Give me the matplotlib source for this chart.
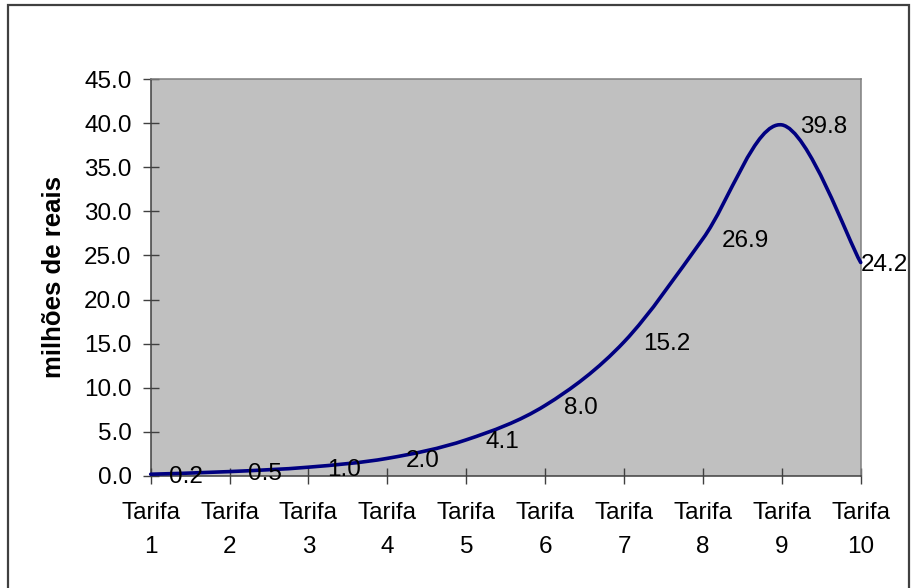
import numpy as np
import matplotlib
matplotlib.use("Agg")
import matplotlib.pyplot as plt
from matplotlib.path import Path
from matplotlib.patches import PathPatch, Rectangle

categories = ["Tarifa\n1", "Tarifa\n2", "Tarifa\n3", "Tarifa\n4", "Tarifa\n5",
              "Tarifa\n6", "Tarifa\n7", "Tarifa\n8", "Tarifa\n9", "Tarifa\n10"]
values = [0.2, 0.5, 1.0, 2.0, 4.1, 8.0, 15.2, 26.9, 39.8, 24.2]
value_labels = ["0.2", "0.5", "1.0", "2.0", "4.1", "8.0", "15.2", "26.9", "39.8", "24.2"]
yticks = [0, 5, 10, 15, 20, 25, 30, 35, 40, 45]
ylabel = "milhões de reais"

plt.rcParams['font.family'] = ['Liberation Sans', 'DejaVu Sans']
FS = 17.5

W, H = 912, 588
fig = plt.figure(figsize=(W / 100, H / 100), dpi=100)
L, R, T, B = 150.7, 860.7, 79, 476
ax = fig.add_axes([L / W, 1 - B / H, (R - L) / W, (B - T) / H])
ax.set_facecolor('#C0C0C0')

xs = np.arange(1, len(values) + 1, dtype=float)
pts = np.column_stack([xs, values])

# smoothed line (Catmull-Rom as cubic Bezier segments)
verts = [tuple(pts[0])]
codes = [Path.MOVETO]
n = len(pts)
for i in range(n - 1):
    p0 = pts[i - 1] if i > 0 else pts[i]
    p1 = pts[i]
    p2 = pts[i + 1]
    p3 = pts[i + 2] if i + 2 < n else pts[i + 1]
    c1 = p1 + (p2 - p0) / 6.0
    c2 = p2 - (p3 - p1) / 6.0
    verts += [tuple(c1), tuple(c2), tuple(p2)]
    codes += [Path.CURVE4] * 3
patch = PathPatch(Path(verts, codes), facecolor='none', edgecolor='#000080',
                  lw=2.6, transform=ax.transData, capstyle='round',
                  joinstyle='round', zorder=3, clip_on=False)
ax.add_patch(patch)

# data labels
for i, (xv, yv, lab) in enumerate(zip(xs, values, value_labels)):
    dx = 0 if i == n - 1 else 13.5
    ax.annotate(lab, (xv, yv), xytext=(dx, 0), textcoords='offset points',
                ha='left', va='center_baseline', fontsize=FS, color='black',
                zorder=5, annotation_clip=False)

ax.set_xlim(1, 10)
ax.set_ylim(0, 45)
ax.set_xticks(xs)
ax.set_xticklabels(categories, linespacing=1.68)
ax.set_yticks(yticks)
ax.set_yticklabels([f"{v:.1f}" for v in yticks])
ax.tick_params(axis='y', direction='inout', length=11.5, width=1.0,
               color='#404040', pad=8, labelsize=FS)
ax.tick_params(axis='x', direction='inout', length=11, width=1.0,
               color='#404040', pad=13.5, labelsize=FS)

for s in ['left', 'bottom']:
    ax.spines[s].set_color('#404040')
    ax.spines[s].set_linewidth(1.1)
for s in ['top', 'right']:
    ax.spines[s].set_color('#808080')
    ax.spines[s].set_linewidth(1.1)

ax.set_ylabel(ylabel, fontsize=18.5, fontweight='bold')
ax.yaxis.label.set(va='center', ha='center', rotation_mode='anchor')
ax.yaxis.set_label_coords((54 - L) / (R - L), 0.5)

# chart-area border
fig.patches.append(Rectangle((8.5 / W, -0.05), (909.5 - 8.5) / W, 1.05 - 5 / H,
                             transform=fig.transFigure, fill=False,
                             edgecolor='#404040', lw=1.6))

fig.savefig("out.png", dpi=100)
